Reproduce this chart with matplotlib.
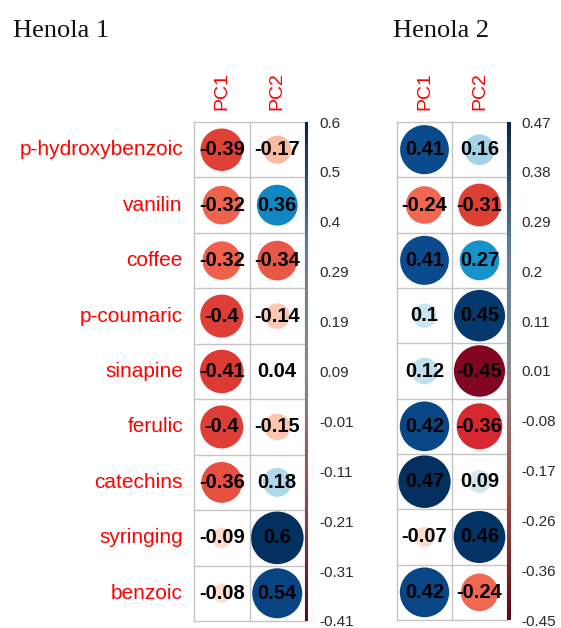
import numpy as np
import matplotlib
matplotlib.use("Agg")
import matplotlib.pyplot as plt
from matplotlib.colors import LinearSegmentedColormap
from matplotlib.patches import Circle

W, H = 561, 628

compounds = ["p-hydroxybenzoic", "vanilin", "coffee", "p-coumaric", "sinapine",
             "ferulic", "catechins", "syringing", "benzoic"]
components = ["PC1", "PC2"]

henola1_pc1 = [-0.39, -0.32, -0.32, -0.4, -0.41, -0.4, -0.36, -0.09, -0.08]
henola1_pc2 = [-0.17, 0.36, -0.34, -0.14, 0.04, -0.15, 0.18, 0.6, 0.54]
henola2_pc1 = [0.41, -0.24, 0.41, 0.1, 0.12, 0.42, 0.47, -0.07, 0.42]
henola2_pc2 = [0.16, -0.31, 0.27, 0.45, -0.45, -0.36, 0.09, 0.46, -0.24]

# colour-bar labels, top to bottom
henola1_ticks = ["0.6", "0.5", "0.4", "0.29", "0.19", "0.09", "-0.01",
                 "-0.11", "-0.21", "-0.31", "-0.41"]
henola2_ticks = ["0.47", "0.38", "0.29", "0.2", "0.11", "0.01", "-0.08",
                 "-0.17", "-0.26", "-0.36", "-0.45"]

# red -> white -> blue, keyed on value / max|value|
stops = [(-1.0, "#6a0020"), (-0.9, "#a80d27"), (-0.78, "#d8262f"),
         (-0.65, "#df4236"), (-0.5, "#f26b55"), (-0.3, "#fbb89d"),
         (-0.15, "#fddccd"), (0.0, "#ffffff"), (0.2, "#cfe7f2"),
         (0.35, "#9fd2e7"), (0.55, "#1f9fd4"), (0.62, "#0a7ebb"),
         (0.75, "#0a60a0"), (0.87, "#0b4c8f"), (1.0, "#03305f")]
RDBU = LinearSegmentedColormap.from_list(
    "rdbu", [(0.5 + 0.5 * t, c) for t, c in stops])

# the thin legend strip is drawn in muted tones
BAR = LinearSegmentedColormap.from_list(
    "bar", ["#5a0a14", "#9a4a44", "#8a8a8a", "#5f7f99", "#0a2448"])

SANS = ["Liberation Sans", "DejaVu Sans"]
GRID = "#c4c4c4"


def box(x0, y0, x1, y1):
    return [x0 / W, 1 - y1 / H, (x1 - x0) / W, (y1 - y0) / H]


def panel(fig, x0, y0, x1, y1, cols, ticks, row_labels):
    ax = fig.add_axes(box(x0, y0, x1, y1))
    n = len(compounds)
    ax.set_xlim(0, 2)
    ax.set_ylim(0, n)
    ax.axis("off")
    vmax = max(abs(v) for c in cols for v in c)

    for j, col in enumerate(cols):
        for i, v in enumerate(col):
            cy = n - i - 0.5
            cx = j + 0.5
            r = 0.475 * np.sqrt(abs(v) / vmax)
            ax.add_patch(Circle((cx, cy), r, facecolor=RDBU(0.5 + 0.5 * v / vmax),
                                edgecolor="none", zorder=1))
            ax.text(cx, cy, f"{v:g}", ha="center", va="center", fontsize=14.5,
                    fontweight="bold", family=SANS, color="black", zorder=3)

    for k in range(n + 1):
        ax.plot([0, 2], [k, k], color=GRID, lw=1, zorder=2, clip_on=False)
    for k in range(3):
        ax.plot([k, k], [0, n], color=GRID, lw=1, zorder=2, clip_on=False)

    for j, name in enumerate(components):
        ax.text(j + 0.5, n + 0.22, name, rotation=90, ha="center", va="bottom",
                fontsize=14, color="red", family=SANS, clip_on=False)
    if row_labels:
        for i, name in enumerate(compounds):
            ax.text(-0.2, n - i - 0.5, name, ha="right", va="center",
                    fontsize=15, color="red", family=SANS, clip_on=False)

    cax = fig.add_axes(box(x1, y0, x1 + 3, y1))
    cax.imshow(np.linspace(0, 1, 256)[:, None], aspect="auto", cmap=BAR,
               origin="lower", extent=[0, 1, 0, 1])
    cax.set_xticks([])
    cax.yaxis.tick_right()
    cax.set_yticks(np.linspace(0, 1, len(ticks)))
    cax.set_yticklabels(ticks[::-1], fontsize=11, family=SANS, color="#2a2a2a")
    cax.tick_params(length=0, pad=8.5)
    for s in cax.spines.values():
        s.set_visible(False)


fig = plt.figure(figsize=(W / 100, H / 100), dpi=100)
fig.patch.set_facecolor("white")

panel(fig, 194, 122, 305, 621, [henola1_pc1, henola1_pc2], henola1_ticks, True)
panel(fig, 397, 122, 507, 620, [henola2_pc1, henola2_pc2], henola2_ticks, False)

fig.text(13 / W, 1 - 37 / H, "Henola 1", fontsize=19, family="Liberation Serif",
         va="baseline", color="#111")
fig.text(393 / W, 1 - 37 / H, "Henola 2", fontsize=19, family="Liberation Serif",
         va="baseline", color="#111")

fig.savefig("out.png", dpi=100, facecolor="white")
